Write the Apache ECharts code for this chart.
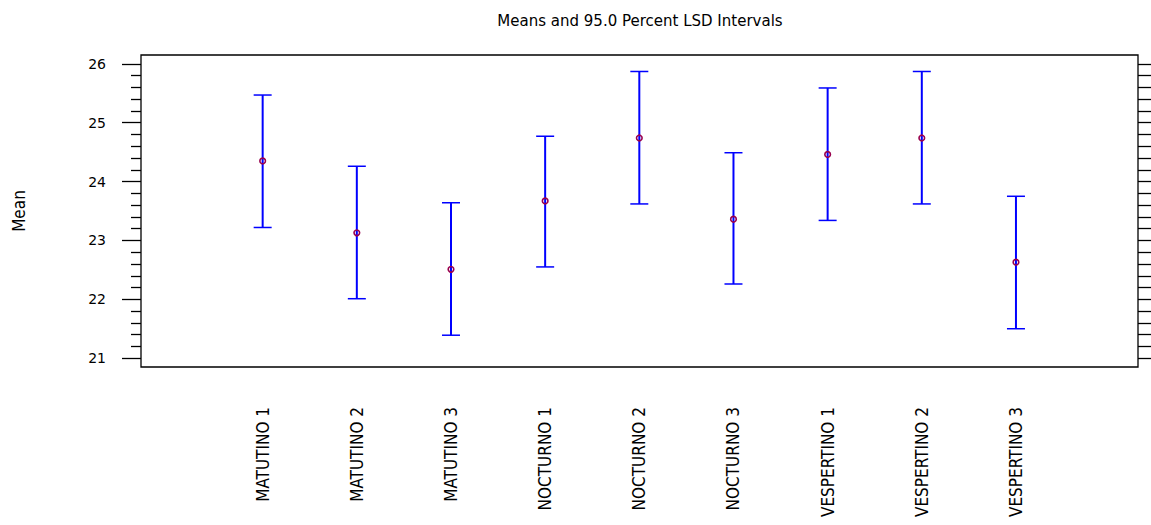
<!DOCTYPE html>
<html>
<head>
<meta charset="utf-8">
<script src="https://cdn.jsdelivr.net/npm/echarts@6/dist/echarts.min.js"></script>
<style>
html,body{margin:0;padding:0;background:#fff;}
#chart{width:1151px;height:525px;}
</style>
</head>
<body>
<div id="chart"></div>
<script>
var categories = ['MATUTINO 1','MATUTINO 2','MATUTINO 3','NOCTURNO 1','NOCTURNO 2','NOCTURNO 3','VESPERTINO 1','VESPERTINO 2','VESPERTINO 3'];
var means = [24.35, 23.13, 22.51, 23.67, 24.74, 23.36, 24.46, 24.74, 22.63];
var lower = [23.22, 22.01, 21.39, 22.55, 23.62, 22.26, 23.34, 23.62, 21.50];
var upper = [25.47, 24.26, 23.64, 24.77, 25.87, 24.49, 25.59, 25.87, 23.75];
var yMajorTicks = [21, 22, 23, 24, 25, 26];
var yMinorTicks = [21.2, 21.4, 21.6, 21.8, 22.2, 22.4, 22.6, 22.8, 23.2, 23.4, 23.6, 23.8, 24.2, 24.4, 24.6, 24.8, 25.2, 25.4, 25.6, 25.8];
var yAllTicks = [21, 21.2, 21.4, 21.6, 21.8, 22, 22.2, 22.4, 22.6, 22.8, 23, 23.2, 23.4, 23.6, 23.8, 24, 24.2, 24.4, 24.6, 24.8, 25, 25.2, 25.4, 25.6, 25.8, 26];
var titleText = 'Means and 95.0 Percent LSD Intervals';
var yName = 'Mean';

var catIndex = categories.map(function (c, i) { return i; });
var seriesData = categories.map(function (c, i) { return [i, lower[i], means[i], upper[i]]; });

var Y_MIN = 20.85, Y_MAX = 26.15;
var narrow = "'Liberation Sans Narrow', 'Arial Narrow', 'DejaVu Sans Condensed', sans-serif";

var chart = echarts.init(document.getElementById('chart'), null, {renderer: 'svg'});
chart.setOption({
  backgroundColor: '#fff',
  animation: false,
  graphic: [{
    type: 'text',
    x: 640, y: 21,
    style: {
      text: titleText,
      fill: '#000',
      font: "15px 'DejaVu Sans', sans-serif",
      textAlign: 'center',
      textVerticalAlign: 'middle'
    }
  }],
  grid: {
    left: 141, top: 55, width: 997, height: 312,
    show: true, borderColor: '#000', borderWidth: 1.3, backgroundColor: '#fff',
    containLabel: false,
    outerBoundsMode: 'none'
  },
  xAxis: {
    type: 'value',
    min: -1.292, max: 9.296,
    axisLine: {show: false, onZero: false},
    axisTick: {show: false},
    splitLine: {show: false},
    axisLabel: {
      customValues: catIndex,
      formatter: function (v) { return categories[Math.round(v)]; },
      rotate: 90,
      margin: 40,
      color: '#000',
      fontFamily: narrow,
      fontSize: 17
    }
  },
  yAxis: [{
    type: 'value',
    position: 'left',
    min: Y_MIN, max: Y_MAX,
    name: yName,
    nameLocation: 'middle',
    nameRotate: 90,
    nameGap: 114,
    nameTextStyle: {color: '#000', fontFamily: narrow, fontSize: 17},
    axisLine: {show: false, onZero: false},
    splitLine: {show: false},
    axisTick: {show: true, customValues: yMajorTicks, length: 19, inside: false, lineStyle: {color: '#000', width: 1.3}},
    axisLabel: {customValues: yMajorTicks, margin: 35, color: '#000', fontFamily: "'DejaVu Sans', sans-serif", fontSize: 14}
  }, {
    type: 'value',
    position: 'left',
    offset: 0,
    min: Y_MIN, max: Y_MAX,
    axisLine: {show: false, onZero: false},
    splitLine: {show: false},
    axisTick: {show: true, customValues: yMinorTicks, length: 10, inside: false, lineStyle: {color: '#000', width: 1.3}},
    axisLabel: {show: false}
  }, {
    type: 'value',
    position: 'right',
    offset: 0,
    min: Y_MIN, max: Y_MAX,
    axisLine: {show: false, onZero: false},
    splitLine: {show: false},
    axisTick: {show: true, customValues: yAllTicks, length: 14, inside: false, lineStyle: {color: '#000', width: 1.3}},
    axisLabel: {show: false}
  }],
  series: [{
    type: 'custom',
    xAxisIndex: 0,
    yAxisIndex: 0,
    data: seriesData,
    renderItem: function (params, api) {
      var x = api.value(0);
      var lo = api.coord([x, api.value(1)]);
      var mid = api.coord([x, api.value(2)]);
      var hi = api.coord([x, api.value(3)]);
      var cap = 9;
      return {
        type: 'group',
        children: [
          {type: 'line', shape: {x1: lo[0], y1: lo[1], x2: hi[0], y2: hi[1]}, style: {stroke: '#0000ff', lineWidth: 2}},
          {type: 'line', shape: {x1: hi[0] - cap, y1: hi[1], x2: hi[0] + cap, y2: hi[1]}, style: {stroke: '#0000ff', lineWidth: 1.5}},
          {type: 'line', shape: {x1: lo[0] - cap, y1: lo[1], x2: lo[0] + cap, y2: lo[1]}, style: {stroke: '#0000ff', lineWidth: 1.5}},
          {type: 'circle', shape: {cx: mid[0], cy: mid[1], r: 2.8}, style: {fill: 'none', stroke: '#99004d', lineWidth: 1.6}}
        ]
      };
    }
  }]
});
</script>
</body>
</html>
